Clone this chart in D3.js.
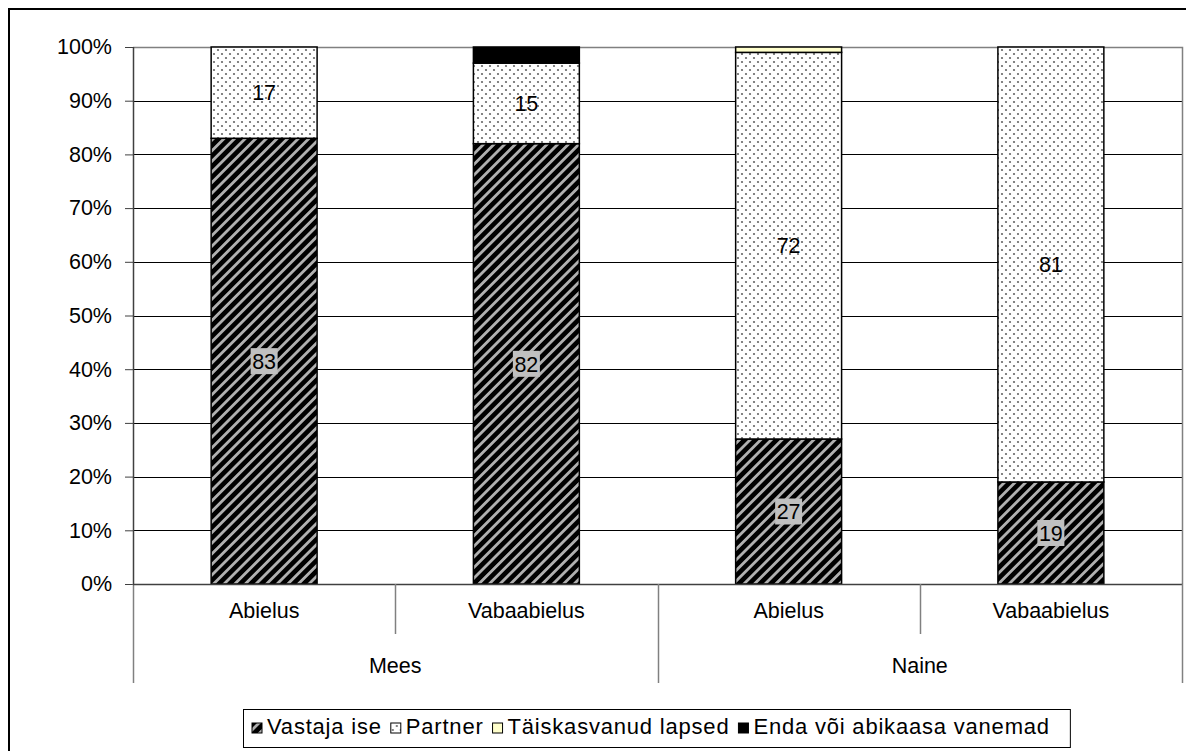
<!DOCTYPE html>
<html>
<head>
<meta charset="utf-8">
<script src="https://cdn.jsdelivr.net/npm/d3@7"></script>
<style>
  html, body { margin: 0; padding: 0; background: #fff; }
  svg { display: block; font-family: "Liberation Sans", Arial, sans-serif; }
</style>
</head>
<body>
<svg id="chart" width="1186" height="751"></svg>
<script>
// ---- data ----
const groups = ["Mees", "Mees", "Naine", "Naine"];
const categories = ["Abielus", "Vabaabielus", "Abielus", "Vabaabielus"];
const seriesNames = ["Vastaja ise", "Partner", "Täiskasvanud lapsed", "Enda või abikaasa vanemad"];
const vastajaIse = [83, 82, 27, 19];
const partner = [17, 15, 72, 81];
const taiskasvanudLapsed = [0, 0, 1, 0];
const vanemad = [0, 3, 0, 0];
const yTicks = [0, 10, 20, 30, 40, 50, 60, 70, 80, 90, 100];

const seriesValues = [vastajaIse, partner, taiskasvanudLapsed, vanemad];
const rows = categories.map((c, i) => {
  const r = { id: i, cat: c, group: groups[i] };
  seriesNames.forEach((s, k) => r[s] = seriesValues[k][i]);
  return r;
});

const svg = d3.select("#chart");
const W = 1186, H = 751;
const plot = { left: 133, right: 1182, top: 47, bottom: 584 };
const FONT = 21.5;

// ---- patterns ----
const defs = svg.append("defs");
const stripe = defs.append("pattern").attr("id", "stripes")
  .attr("patternUnits", "userSpaceOnUse").attr("width", 7.5).attr("height", 7.5)
  .attr("patternTransform", "rotate(45)");
stripe.append("rect").attr("width", 7.5).attr("height", 7.5).attr("fill", "#000");
stripe.append("rect").attr("x", 0).attr("width", 2.8).attr("height", 7.5).attr("fill", "#b0b0b0");

const dots = defs.append("pattern").attr("id", "dots")
  .attr("patternUnits", "userSpaceOnUse").attr("width", 8).attr("height", 8);
dots.append("rect").attr("width", 8).attr("height", 8).attr("fill", "#fff");
dots.append("circle").attr("cx", 2).attr("cy", 2).attr("r", 1.1).attr("fill", "#666");
dots.append("circle").attr("cx", 6).attr("cy", 6).attr("r", 1.1).attr("fill", "#666");

const fills = {
  "Vastaja ise": "url(#stripes)",
  "Partner": "url(#dots)",
  "Täiskasvanud lapsed": "#ffffcc",
  "Enda või abikaasa vanemad": "#000"
};

// ---- outer border ----
svg.append("rect").attr("x", 9).attr("y", 9).attr("width", W).attr("height", H)
  .attr("fill", "none").attr("stroke", "#000").attr("stroke-width", 2);

// ---- scales ----
const x = d3.scaleBand().domain(rows.map(r => r.id))
  .range([plot.left, plot.right]).paddingInner(0.596).paddingOuter(0.298);
const y = d3.scaleLinear().domain([0, 100]).range([plot.bottom, plot.top]);

// gridlines
svg.append("g").selectAll("line").data(yTicks.filter(t => t > 0 && t < 100)).join("line")
  .attr("x1", plot.left).attr("x2", plot.right)
  .attr("y1", d => Math.round(y(d)) + 0.5).attr("y2", d => Math.round(y(d)) + 0.5)
  .attr("stroke", "#000").attr("stroke-width", 1);
// top & right border of plot area
svg.append("path")
  .attr("d", `M${plot.left},${Math.round(y(100)) + 0.5}H${plot.right + 0.5}V${plot.bottom}`)
  .attr("fill", "none").attr("stroke", "#808080").attr("stroke-width", 1.5);

// ---- stacked bars ----
const stack = d3.stack().keys(seriesNames);
const stacked = stack(rows);

svg.append("g").selectAll("g").data(stacked).join("g")
  .attr("fill", d => fills[d.key])
  .selectAll("rect").data(d => d.filter(p => p[1] - p[0] > 0)).join("rect")
  .attr("x", d => x(d.data.id))
  .attr("width", x.bandwidth())
  .attr("y", d => y(d[1]))
  .attr("height", d => y(d[0]) - y(d[1]))
  .attr("stroke", "#000").attr("stroke-width", 1.5);

// ---- value labels ----
const lab = svg.append("g").attr("font-size", FONT);
stacked.slice(0, 2).forEach((layer, k) => {
  layer.forEach(p => {
    const v = p[1] - p[0];
    if (v < 5) return;
    const cx = x(p.data.id) + x.bandwidth() / 2;
    const cy = (y(p[0]) + y(p[1])) / 2;
    if (k === 0) {
      lab.append("rect").attr("x", cx - 13.5).attr("y", cy - 13).attr("width", 27).attr("height", 26)
        .attr("fill", "#c0c0c0");
    }
    lab.append("text").attr("x", cx).attr("y", cy).attr("dy", "0.36em")
      .attr("text-anchor", "middle").attr("fill", "#000").text(v);
  });
});

// ---- y axis ----
const yAxis = svg.append("g").attr("transform", `translate(${plot.left},0)`)
  .call(d3.axisLeft(y).tickValues(yTicks).tickFormat(d => d + "%").tickSize(8).tickPadding(13));
yAxis.select(".domain").remove();
yAxis.selectAll(".tick line").attr("stroke", "#404040");
yAxis.selectAll("text").attr("font-size", FONT).attr("font-family", "Liberation Sans, Arial, sans-serif").attr("fill", "#000");

// left axis line (extends below into category area) & zero line
svg.append("line").attr("x1", plot.left + 0.5).attr("x2", plot.left + 0.5)
  .attr("y1", plot.top).attr("y2", plot.bottom).attr("stroke", "#404040").attr("stroke-width", 1.5);
svg.append("line").attr("x1", plot.left + 0.5).attr("x2", plot.left + 0.5)
  .attr("y1", plot.bottom).attr("y2", 683).attr("stroke", "#808080").attr("stroke-width", 1.5);
svg.append("line").attr("x1", plot.left).attr("x2", plot.right + 0.5)
  .attr("y1", plot.bottom + 0.5).attr("y2", plot.bottom + 0.5).attr("stroke", "#404040").attr("stroke-width", 1.5);

// ---- category axis (two levels) ----
const step = x.step();
const xAxis = svg.append("g").attr("transform", `translate(0,${plot.bottom})`)
  .call(d3.axisBottom(x).tickFormat(i => categories[i]).tickSize(0).tickPadding(0));
xAxis.select(".domain").remove();
xAxis.selectAll("text").attr("font-size", FONT).attr("font-family", "Liberation Sans, Arial, sans-serif")
  .attr("fill", "#000").attr("dy", null).attr("y", 28).attr("dominant-baseline", "middle");

const sep = svg.append("g").attr("stroke", "#808080").attr("stroke-width", 1.5);
rows.forEach((r, i) => {
  if (i === 0) return;
  const xx = Math.round(plot.left + step * i) + 0.5;
  const bigSplit = groups[i] !== groups[i - 1];
  sep.append("line").attr("x1", xx).attr("x2", xx).attr("y1", plot.bottom)
    .attr("y2", bigSplit ? 683 : 634);
});
sep.append("line").attr("x1", plot.right + 0.5).attr("x2", plot.right + 0.5)
  .attr("y1", plot.bottom).attr("y2", 683);

// group labels
const groupNames = Array.from(new Set(groups));
groupNames.forEach(g => {
  const idx = rows.filter(r => r.group === g).map(r => r.id);
  const x0 = plot.left + step * d3.min(idx), x1 = plot.left + step * (d3.max(idx) + 1);
  svg.append("text").attr("x", (x0 + x1) / 2).attr("y", 667).attr("dominant-baseline", "middle")
    .attr("text-anchor", "middle").attr("font-size", FONT).text(g);
});

// ---- legend ----
const lg = svg.append("g").attr("font-size", 22).attr("letter-spacing", 0.8);
const items = [];
const sym = 10, gapSym = 5, gapItem = 9;
seriesNames.forEach((s, k) => {
  const g = lg.append("g");
  g.append("rect").attr("x", 0).attr("y", -sym / 2).attr("width", sym).attr("height", sym)
    .attr("fill", fills[s]).attr("stroke", "#000").attr("stroke-width", 1);
  const t = g.append("text").attr("x", sym + gapSym).attr("y", 0).attr("dominant-baseline", "middle").text(s);
  const w = sym + gapSym + t.node().getBBox().width;
  items.push({ g, w });
});
const totalW = d3.sum(items, d => d.w) + gapItem * (items.length - 1);
const padL = 9, padR = 20;
const boxW = totalW + padL + padR;
const boxX = Math.round(656.5 - boxW / 2);
const legY = 728;
lg.insert("rect", ":first-child").attr("x", boxX + 0.5).attr("y", 709.5).attr("width", boxW).attr("height", 38)
  .attr("fill", "#fff").attr("stroke", "#000").attr("stroke-width", 1);
let cur = boxX + padL;
items.forEach(it => {
  it.g.attr("transform", `translate(${cur},${legY})`);
  cur += it.w + gapItem;
});
</script>
</body>
</html>
